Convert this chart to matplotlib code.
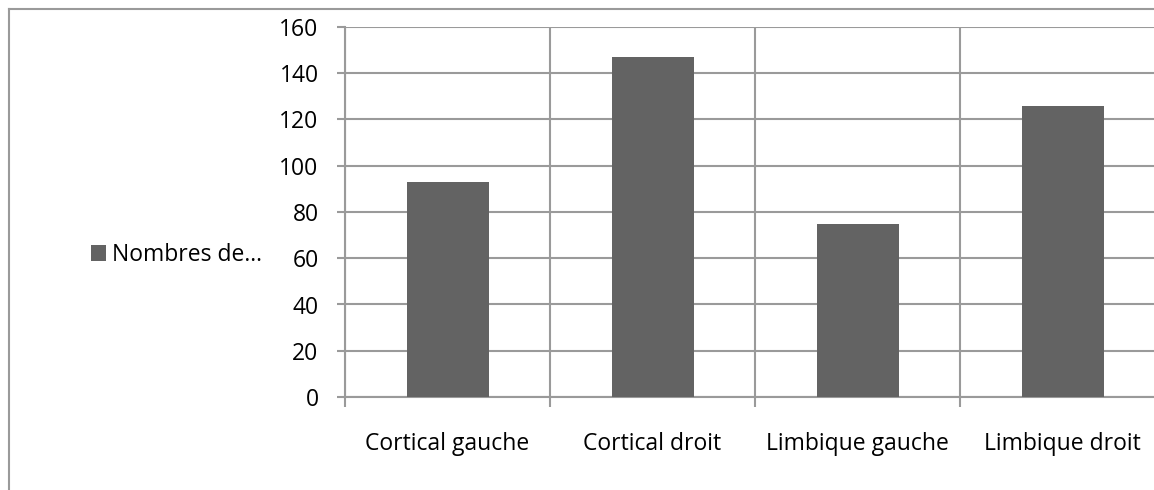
import matplotlib
matplotlib.use("Agg")
import matplotlib.pyplot as plt
from matplotlib.lines import Line2D
import numpy as np

categories = ["Cortical gauche", "Cortical droit", "Limbique gauche", "Limbique droit"]
values = [93, 147, 75, 126]
series_label = "Nombres de..."
yticks = [0, 20, 40, 60, 80, 100, 120, 140, 160]

plt.rcParams['font.family'] = ['Open Sans', 'DejaVu Sans']

W, H = 1154, 490
fig = plt.figure(figsize=(W / 100, H / 100), dpi=100)
fig.patch.set_facecolor('white')

# outer chart border (cropped at right and bottom)
bc = '#9a9a9a'
fig.add_artist(Line2D([9 / W, 9 / W], [1 - 9 / H, -0.1], transform=fig.transFigure, color=bc, lw=1.5))
fig.add_artist(Line2D([9 / W, 1.1], [1 - 9 / H, 1 - 9 / H], transform=fig.transFigure, color=bc, lw=1.5))

left, right, top, bottom = 345, 1165, 27, 397
ax = fig.add_axes([left / W, 1 - bottom / H, (right - left) / W, (bottom - top) / H])

x = np.arange(len(categories))
ax.bar(x, values, width=0.4, color='#636363', label=series_label, zorder=3)

fs = 16.5
ax.set_xlim(-0.5, len(categories) - 0.5)
ax.set_ylim(0, 160)
ax.set_yticks(yticks)
ax.set_yticklabels([str(v) for v in yticks], fontsize=fs, color='black')
ax.set_xticks(x)
ax.set_xticklabels(categories, fontsize=fs, color='black')
ax.set_xticks(np.arange(len(categories) + 1) - 0.5, minor=True)

gc = '#9a9a9a'
ax.grid(axis='y', which='major', color=gc, lw=1.5, zorder=0)
ax.grid(axis='x', which='minor', color=gc, lw=1.5, zorder=0)
ax.tick_params(axis='x', which='major', length=0, pad=25)
ax.tick_params(axis='x', which='minor', length=7, color=gc, width=1.5)
ax.tick_params(axis='y', length=6, color=gc, width=1.5, pad=13)
for s in ['top', 'right']:
    ax.spines[s].set_visible(False)
for s in ['left', 'bottom']:
    ax.spines[s].set_color(gc)
    ax.spines[s].set_linewidth(1.5)

fig.legend(loc='center left', bbox_to_anchor=(82 / W, 1 - 255 / H), frameon=False,
           fontsize=fs, handlelength=0.65, handleheight=0.65, handletextpad=0.25,
           borderaxespad=0)

fig.savefig('out.png', dpi=100, facecolor='white')
